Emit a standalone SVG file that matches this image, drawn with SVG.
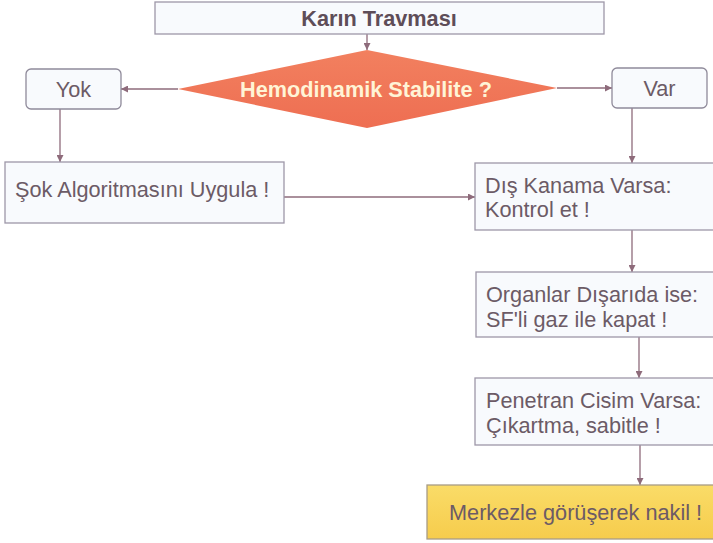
<svg xmlns="http://www.w3.org/2000/svg" width="713" height="543" viewBox="0 0 713 543">
<style>
.box{fill:#f8fafd;stroke:#9d97a8;stroke-width:1.3}
.rbox{fill:#f8fafd;stroke:#8f8a9a;stroke-width:1.3}
.t{font-family:"Liberation Sans",Arial,sans-serif;font-size:21.7px;fill:#6c5b66}
.b{font-weight:bold}
.c{fill:none;stroke:#8e6b7b;stroke-width:1.3}
</style>
<defs>
<marker id="ah" viewBox="0 0 10 10" refX="10" refY="5" markerWidth="7" markerHeight="7" markerUnits="userSpaceOnUse" orient="auto">
<path d="M0,0 L10,5 L0,10 z" fill="#8e6b7b"/>
</marker>
<linearGradient id="dg" x1="0" y1="0" x2="0" y2="1">
<stop offset="0" stop-color="#f2805f"/>
<stop offset="1" stop-color="#ee6e52"/>
</linearGradient>
<linearGradient id="yg" x1="0" y1="0" x2="0" y2="1">
<stop offset="0" stop-color="#fadc68"/>
<stop offset="1" stop-color="#f6cc4c"/>
</linearGradient>
</defs>
<rect width="713" height="543" fill="#ffffff"/>
<g id="connectors">
<line class="c" x1="367" y1="34" x2="367" y2="50" marker-end="url(#ah)"/>
<line class="c" x1="178" y1="89" x2="121" y2="89" marker-end="url(#ah)"/>
<line class="c" x1="557" y1="88" x2="612" y2="88" marker-end="url(#ah)"/>
<line class="c" x1="60" y1="109" x2="60" y2="162" marker-end="url(#ah)"/>
<line class="c" x1="284" y1="197" x2="475" y2="197" marker-end="url(#ah)"/>
<line class="c" x1="632" y1="108" x2="632" y2="163" marker-end="url(#ah)"/>
<line class="c" x1="632" y1="230" x2="632" y2="272" marker-end="url(#ah)"/>
<line class="c" x1="639" y1="337" x2="639" y2="378" marker-end="url(#ah)"/>
<line class="c" x1="640" y1="445" x2="640" y2="485" marker-end="url(#ah)"/>
</g>
<g id="karin">
<rect class="box" x="155" y="2" width="449" height="32"/>
<text class="t b" x="379" y="26" text-anchor="middle" style="fill:#5e4d58">Karın Travması</text>
</g>
<g id="hemo">
<polygon points="367,50 557,88 367,128 178,89" fill="url(#dg)"/>
<text class="t b" x="366" y="97" text-anchor="middle" style="fill:#fff4d6">Hemodinamik Stabilite ?</text>
</g>
<g id="yok">
<rect class="rbox" x="26" y="69" width="95" height="40" rx="5"/>
<text class="t" x="73.5" y="97" text-anchor="middle">Yok</text>
</g>
<g id="var">
<rect class="rbox" x="612" y="68" width="95" height="40" rx="5"/>
<text class="t" x="659.5" y="96" text-anchor="middle">Var</text>
</g>
<g id="sok">
<rect class="box" x="5" y="162" width="279" height="61"/>
<text class="t" x="15" y="197">Şok Algoritmasını Uygula !</text>
</g>
<g id="dis">
<rect class="box" x="475" y="163" width="260" height="67"/>
<text class="t" x="485" y="193">Dış Kanama Varsa:</text>
<text class="t" x="485" y="217">Kontrol et !</text>
</g>
<g id="organlar">
<rect class="box" x="476" y="272" width="260" height="65"/>
<text class="t" x="486" y="302">Organlar Dışarıda ise:</text>
<text class="t" x="486" y="327">SF'li gaz ile kapat !</text>
</g>
<g id="penetran">
<rect class="box" x="475" y="378" width="260" height="67"/>
<text class="t" x="486" y="408">Penetran Cisim Varsa:</text>
<text class="t" x="486" y="433">Çıkartma, sabitle !</text>
</g>
<g id="merkez">
<rect x="427" y="485" width="310" height="54" fill="url(#yg)" stroke="#a89c86" stroke-width="1.3"/>
<text class="t" x="449" y="520">Merkezle görüşerek nakil !</text>
</g>
</svg>
